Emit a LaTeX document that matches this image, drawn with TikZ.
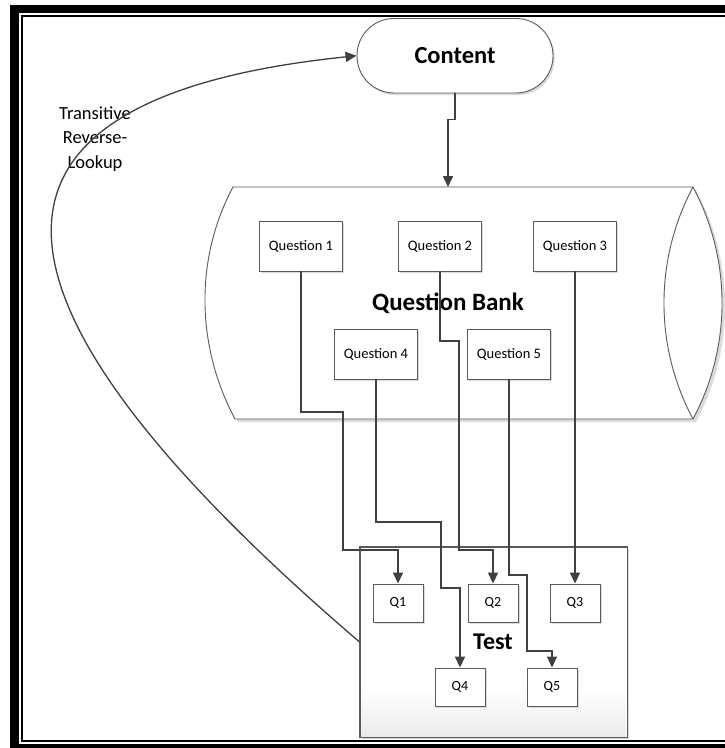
\documentclass[tikz,border=0pt]{standalone}
\usepackage{fontspec}
\setmainfont{Carlito}
\usetikzlibrary{arrows.meta}
\definecolor{conncol}{HTML}{404040}
\definecolor{boxcol}{HTML}{5A5A5A}
\tikzset{
  shadowed/.style={preaction={draw=none, fill=black!14, transform canvas={shift={(1.8pt,-2.2pt)}}}},
  qbox/.style={shadowed, draw=boxcol, line width=0.9pt, fill=white, minimum width=83pt, minimum height=50pt, inner sep=0pt, font=\fontsize{14.5}{17}\selectfont},
  tbox/.style={shadowed, draw=boxcol, line width=0.9pt, fill=white, minimum width=50pt, minimum height=38pt, inner sep=0pt, font=\fontsize{14}{17}\selectfont},
  conn/.style={draw=conncol, line width=1.6pt, -{Triangle[length=11pt,width=10pt]}},
  bigtitle/.style={font=\fontsize{25}{30}\selectfont\bfseries, inner sep=0pt},
}
\begin{document}
\begin{tikzpicture}[x=1pt,y=-1pt]
\useasboundingbox (0,0) rectangle (725,748);
\fill[white] (0,0) rectangle (725,748);
% page frame
\fill[black] (10,5) rectangle (725,13);
\fill[black] (10,5) rectangle (19,748);
\fill[black] (10,744) rectangle (725,748);
\fill[black] (21,15) rectangle (725,17);
\fill[black] (21,15) rectangle (23,742);
\fill[black] (21,740) rectangle (725,742);

% question bank cylinder
\fill[black!14] (236,190) -- (696,190) .. controls (734.7,262.5) and (734.7,349.5) .. (696,422) -- (238,422) .. controls (199.3,349.5) and (197.3,262.5) .. (236,190) -- cycle;
\draw[boxcol, line width=0.9pt, fill=white] (233,187) -- (693,187) .. controls (731.7,259.5) and (731.7,346.5) .. (693,419) -- (235,419) .. controls (196.3,346.5) and (194.3,259.5) .. (233,187) -- cycle;
\draw[boxcol, line width=0.9pt] (693,187) .. controls (654.3,259.5) and (654.3,346.5) .. (693,419);
\node[bigtitle] (qb) at (448,303) {Question Bank};
\coordinate (qbtop) at (448,187);

% content
\node[shadowed, draw=boxcol, line width=0.9pt, fill=white, rounded corners=37pt, minimum width=196pt, minimum height=74.5pt, inner sep=0pt, font=\fontsize{24.5}{29}\selectfont\bfseries] (content) at (455,55.75) {Content};

% test container
\node[shadowed, draw=boxcol, line width=0.9pt, fill=white, minimum width=267pt, minimum height=190pt, inner sep=0pt] (test) at (493.5,642) {};
\shade[top color=white, bottom color=black!8] (361,690) rectangle (626,736.5);
\draw[boxcol, line width=0.9pt] (test.south west) rectangle (test.north east);
\node[font=\fontsize{24}{29}\selectfont\bfseries, inner sep=0pt] (testlbl) at (493,642) {Test};

% questions in bank
\node[qbox] (Q1) at (301,246) {Question 1};
\node[qbox] (Q2) at (440,246) {Question 2};
\node[qbox] (Q3) at (575,246) {Question 3};
\node[qbox] (Q4) at (376,354) {Question 4};
\node[qbox] (Q5) at (509,354) {Question 5};

% questions in test
\node[tbox] (t1) at (398,603) {Q1};
\node[tbox] (t2) at (493,603) {Q2};
\node[tbox] (t3) at (575,603) {Q3};
\node[tbox] (t4) at (460,687) {Q4};
\node[tbox] (t5) at (552,687) {Q5};

% label
\node[align=center, inner sep=0pt, font=\fontsize{18.5}{24.4}\selectfont] (lbl) at (95,139) {Transitive\\Reverse-\\Lookup};

% connectors
\draw[conn] (content.south) -- ++(0,26) -| (qbtop);
\draw[conn] (Q1.south) |- (343,412) -- (343,550) -| (t1.north);
\draw[conn] (Q2.south) |- (459,341) -- (459,550) -| (t2.north);
\draw[conn] (Q3.south) -- (t3.north);
\draw[conn] (Q4.south) |- (441,522) -- (441,588) -| (t4.north);
\draw[conn] (Q5.south) |- (527,575) -- (527,651) -| (t5.north);
\draw[draw=conncol, line width=1.3pt, -{Triangle[length=11pt,width=10pt]}] (test.west) .. controls (-35,304) and (-63,99) .. (content.west);
\end{tikzpicture}
\end{document}
